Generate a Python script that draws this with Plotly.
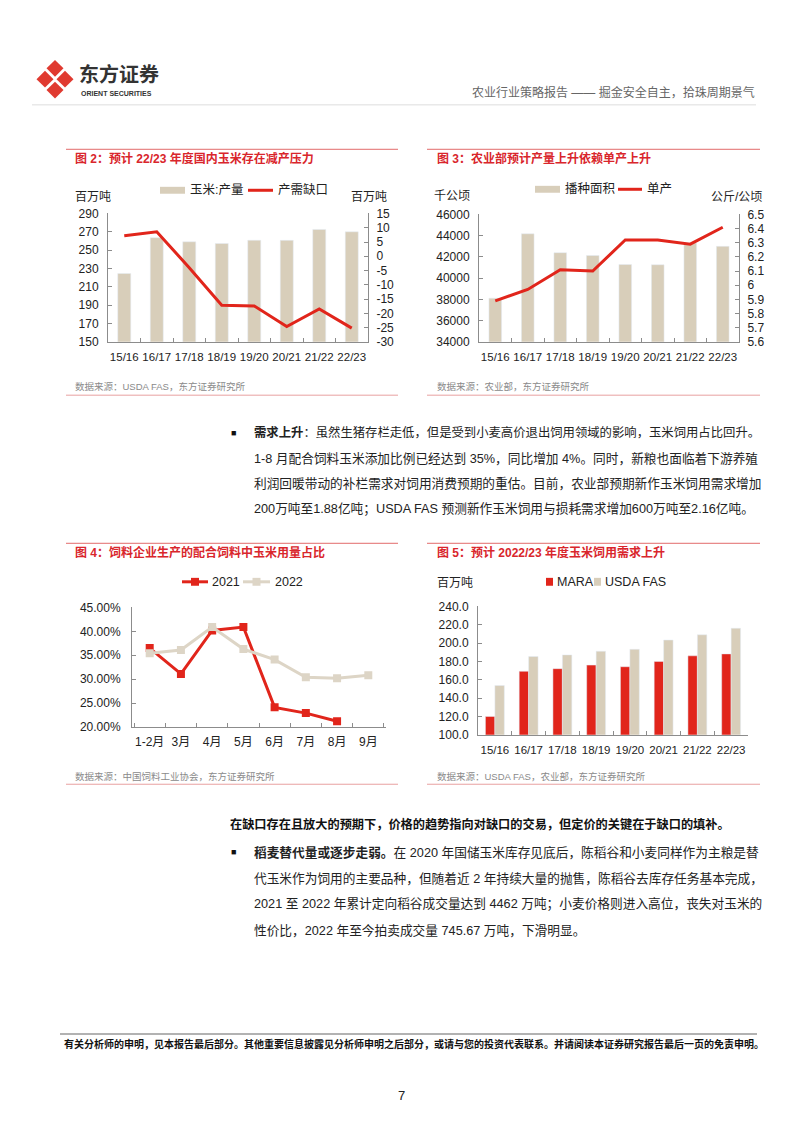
import plotly.graph_objects as go

PAGE_W, PAGE_H = 802, 1133
OFF = 8  # default body margin of the html page
W, H = PAGE_W - 2 * OFF, PAGE_H - 2 * OFF
FONT = "Liberation Sans, Noto Sans CJK SC, sans-serif"
TF = "Liberation Sans, Noto Sans CJK SC, sans-serif"

# ---------------- data ----------------
seasons = ["15/16", "16/17", "17/18", "18/19", "19/20", "20/21", "21/22", "22/23"]
corn_output = [224.6, 263.6, 259.1, 257.3, 260.8, 260.7, 272.6, 270.0]
supply_gap = [7.2, 8.6, -4.0, -17.2, -17.4, -24.6, -18.5, -25.2]

planted_area = [38119, 44178, 42399, 42130, 41284, 41264, 43324, 43000]
unit_yield = [5.89, 5.97, 6.11, 6.10, 6.32, 6.32, 6.29, 6.41]

months = ["1-2月", "3月", "4月", "5月", "6月", "7月", "8月", "9月"]
corn_share_2021 = [0.365, 0.311, 0.402, 0.409, 0.241, 0.229, 0.212, None]
corn_share_2022 = [0.354, 0.361, 0.409, 0.363, 0.341, 0.304, 0.302, 0.308]

feed_mara = [120.1, 169.3, 172.2, 176.1, 174.3, 180.1, 186.2, 188.3]
feed_usda = [153.8, 185.4, 187.2, 191.2, 193.3, 203.4, 209.1, 216.3]

gap_ticks = [15, 10, 5, 0, -5, -10, -15, -20, -25, -30]

RED = "#E1251B"
TAN = "#D8CEBA"
TAN_LINE = "#DDD5C6"
TITLE_RED = "#D9262C"
AXIS = "#8C8C8C"


def fx(x):
    return (x - OFF) / W


def fy(y):
    return 1 - (y - OFF) / H


def xdom(x0, x1):
    return [fx(x0), fx(x1)]


def ydom(y0, y1):
    return [fy(y1), fy(y0)]


fig = go.Figure()

# chart 2
fig.add_trace(go.Bar(x=seasons, y=corn_output, marker_color=TAN, width=0.4,
                     xaxis="x", yaxis="y", showlegend=False))
fig.add_trace(go.Scatter(x=seasons, y=supply_gap, mode="lines",
                         line=dict(color=RED, width=3), xaxis="x", yaxis="y2",
                         showlegend=False))
# chart 3
fig.add_trace(go.Bar(x=seasons, y=planted_area, marker_color=TAN, width=0.39,
                     xaxis="x3", yaxis="y3", showlegend=False))
fig.add_trace(go.Scatter(x=seasons, y=unit_yield, mode="lines",
                         line=dict(color=RED, width=3), xaxis="x3", yaxis="y4",
                         showlegend=False))
# chart 4
fig.add_trace(go.Scatter(x=months, y=corn_share_2021, mode="lines+markers",
                         line=dict(color=RED, width=3),
                         marker=dict(symbol="square", size=8, color=RED),
                         xaxis="x5", yaxis="y5", showlegend=False))
fig.add_trace(go.Scatter(x=months, y=corn_share_2022, mode="lines+markers",
                         line=dict(color=TAN_LINE, width=3),
                         marker=dict(symbol="square", size=8, color=TAN_LINE),
                         xaxis="x5", yaxis="y5", showlegend=False))
# chart 5
fig.add_trace(go.Bar(x=seasons, y=feed_mara, marker_color=RED, width=0.28, offset=-0.28,
                     xaxis="x6", yaxis="y6", showlegend=False))
fig.add_trace(go.Bar(x=seasons, y=feed_usda, marker_color=TAN, width=0.28, offset=0.0,
                     xaxis="x6", yaxis="y6", showlegend=False))

tickfont = dict(family=FONT, size=12, color="#222")


def xax(dom, anchor, size=11.5):
    return dict(domain=dom, anchor=anchor, type="category", showline=True,
                linecolor=AXIS, linewidth=1, ticks="inside", tickson="boundaries",
                ticklen=4, tickcolor=AXIS, tickangle=0,
                tickfont=dict(family=FONT, size=size, color="#222"), showgrid=False,
                zeroline=False, ticklabelstandoff=4)


def yax(dom, anchor, rng, dtick, side="left", overlay=None, fmt=None, standoff=6):
    d = dict(domain=dom, anchor=anchor, range=rng, dtick=dtick, tick0=rng[0],
             showline=True, linecolor=AXIS, linewidth=1, ticks="inside",
             ticklen=4, tickcolor=AXIS, tickfont=tickfont, showgrid=False,
             zeroline=False, side=side, ticklabelstandoff=standoff)
    if overlay:
        d["overlaying"] = overlay
        d.pop("domain")
    if fmt:
        d["tickformat"] = fmt
    return d


y2 = yax(ydom(209, 339), "x", [-30, 15], 5, side="right", overlay="y", standoff=5)
y2.update(tickmode="array", tickvals=gap_ticks, ticktext=[str(v) for v in gap_ticks])

layout = dict(
    width=W, height=H, margin=dict(l=0, r=0, t=0, b=0),
    paper_bgcolor="white", plot_bgcolor="rgba(0,0,0,0)",
    barmode="overlay", showlegend=False,
    xaxis=xax(xdom(108, 368), "y"),
    yaxis=yax(ydom(209, 339), "x", [150, 290], 20),
    yaxis2=y2,
    xaxis3=xax(xdom(479, 739), "y3"),
    yaxis3=yax(ydom(210, 339), "x3", [34000, 46000], 2000, fmt="d"),
    yaxis4=yax(ydom(210, 339), "x3", [5.6, 6.5], 0.1, side="right", overlay="y3", standoff=5),
    xaxis5=xax(xdom(132, 386), "y5", size=12),
    yaxis5=yax(ydom(608, 729), "x5", [0.20, 0.45], 0.05, fmt=".2%", standoff=8),
    xaxis6=xax(xdom(478, 748), "y6"),
    yaxis6=yax(ydom(607, 737), "x6", [100, 240], 20, fmt=".1f", standoff=6),
)
fig.update_layout(**layout)

shapes = []
ann = []


def text(x, y, s, size=12, color="#222", anchor="left", family=TF, vanchor="middle"):
    ann.append(dict(x=fx(x), y=fy(y), xref="paper", yref="paper", text=s,
                    showarrow=False, xanchor=anchor, yanchor=vanchor,
                    font=dict(size=size, color=color, family=family)))


def hline(x0, x1, y, color, width=1):
    shapes.append(dict(type="line", xref="paper", yref="paper",
                       x0=fx(x0), x1=fx(x1), y0=fy(y), y1=fy(y),
                       line=dict(color=color, width=width)))


def rect(x0, y0, x1, y1, color):
    shapes.append(dict(type="rect", xref="paper", yref="paper",
                       x0=fx(x0), x1=fx(x1), y0=fy(y1), y1=fy(y0),
                       fillcolor=color, line=dict(width=0)))


# ---------- header ----------
def diamond(cx, cy, r, color):
    path = "M {} {} L {} {} L {} {} L {} {} Z".format(
        fx(cx), fy(cy - r), fx(cx + r), fy(cy), fx(cx), fy(cy + r), fx(cx - r), fy(cy))
    shapes.append(dict(type="path", xref="paper", yref="paper", path=path,
                       fillcolor=color, line=dict(width=0)))


diamond(55, 62, 8.5, "#E03A30")
diamond(45, 73, 8.5, "#E03A30")
diamond(65, 73, 8.5, "#E03A30")
diamond(55, 84, 8.5, "#E03A30")
text(77, 68, "<b>东方证券</b>", size=20, color="#333")
text(79, 87, "<b>ORIENT SECURITIES</b>", size=7, color="#333", family=FONT)
text(757, 86, "农业行业策略报告 —— 掘金安全自主，拾珠周期景气", size=12, color="#666",
     anchor="right")
hline(32, 756, 99, "#DDDDDD", 1)

# ---------- chart frames ----------
hline(66, 398, 144, "#E26A6A", 1)
hline(427, 760, 144, "#E26A6A", 1)
hline(66, 398, 393, "#E8A0A0", 1)
hline(427, 760, 393, "#E8A0A0", 1)
hline(66, 398, 543, "#E26A6A", 1)
hline(427, 760, 543, "#E26A6A", 1)
hline(66, 398, 787, "#E8A0A0", 1)
hline(427, 760, 787, "#E8A0A0", 1)

text(73, 153, "<b>图 2：预计 22/23 年度国内玉米存在减产压力</b>", size=12, color=TITLE_RED)
text(435, 153, "<b>图 3：农业部预计产量上升依赖单产上升</b>", size=12, color=TITLE_RED)
text(73, 552, "<b>图 4：饲料企业生产的配合饲料中玉米用量占比</b>", size=12, color=TITLE_RED)
text(435, 552, "<b>图 5：预计 2022/23 年度玉米饲用需求上升</b>", size=12, color=TITLE_RED)

SRC = "#8A8A8A"
text(73, 384, "数据来源：USDA FAS，东方证券研究所", size=9.5, color=SRC)
text(435, 384, "数据来源：农业部，东方证券研究所", size=9.5, color=SRC)
text(73, 779, "数据来源：中国饲料工业协会，东方证券研究所", size=9.5, color=SRC)
text(435, 779, "数据来源：USDA FAS，农业部，东方证券研究所", size=9.5, color=SRC)

# chart 2 legend / units
rect(160, 182, 185, 189, TAN)
text(188, 185, "玉米:产量", size=12.5)
hline(248, 273, 185.5, RED, 3)
text(276, 185, "产需缺口", size=12.5)
text(93, 192, "百万吨", size=12, anchor="center")
text(369, 192, "百万吨", size=12, anchor="center")

# chart 3 legend / units
rect(535, 181, 560, 188, TAN)
text(563, 184, "播种面积", size=12.5)
hline(618, 642, 184.5, RED, 3)
text(645, 184, "单产", size=12.5)
text(452, 191, "千公顷", size=12, anchor="center")
text(736, 192, "公斤/公顷", size=12, anchor="center")

# chart 4 legend
hline(182, 208, 582, RED, 3)
rect(191, 578, 199, 586, RED)
text(210, 582, "2021", size=12.5)
hline(243, 270, 582, TAN_LINE, 3)
rect(252.5, 578, 260.5, 586, TAN_LINE)
text(273, 582, "2022", size=12.5)

# chart 5 legend / units
rect(546, 578, 553, 586, RED)
text(555, 582, "MARA", size=12.5)
rect(594, 578, 601, 586, TAN)
text(603, 582, "USDA FAS", size=12.5)
text(455, 583, "百万吨", size=12, anchor="center")

# ---------- body text ----------
BODY = "#222"
text(229, 431, "■", size=9, color="#111")
para1 = [
    "<b>需求上升</b>：虽然生猪存栏走低，但是受到小麦高价退出饲用领域的影响，玉米饲用占比回升。",
    "1-8 月配合饲料玉米添加比例已经达到 35%，同比增加 4%。同时，新粮也面临着下游养殖",
    "利润回暖带动的补栏需求对饲用消费预期的重估。目前，农业部预期新作玉米饲用需求增加",
    "200万吨至1.88亿吨；USDA FAS 预测新作玉米饲用与损耗需求增加600万吨至2.16亿吨。",
]
for i, s in enumerate(para1):
    text(252, 431 + i * 25.8, s, size=12.35 if i == 0 else 12.7, color=BODY)

text(228, 828, "<b>在缺口存在且放大的预期下，价格的趋势指向对缺口的交易，但定价的关键在于缺口的填补。</b>",
     size=12.2, color="#111")
text(229, 856, "■", size=9, color="#111")
para2 = [
    "<b>稻麦替代量或逐步走弱。</b>在 2020 年国储玉米库存见底后，陈稻谷和小麦同样作为主粮是替",
    "代玉米作为饲用的主要品种，但随着近 2 年持续大量的抛售，陈稻谷去库存任务基本完成，",
    "2021 至 2022 年累计定向稻谷成交量达到 4462 万吨；小麦价格则进入高位，丧失对玉米的",
    "性价比，2022 年至今拍卖成交量 745.67 万吨，下滑明显。",
]
for i, s in enumerate(para2):
    text(252, 856 + i * 26.3, s, size=12.7, color=BODY)

# ---------- footer ----------
hline(60, 757, 1040, "#999999", 1.5)
text(62, 1050, "<b>有关分析师的申明，见本报告最后部分。其他重要信息披露见分析师申明之后部分，或请与您的投资代表联系。并请阅读本证券研究报告最后一页的免责申明。</b>",
     size=10, color="#111")
text(401, 1102, "7", size=13, color="#222", anchor="center", family=FONT)

fig.update_layout(shapes=shapes, annotations=ann)
fig.write_html("out.html")
